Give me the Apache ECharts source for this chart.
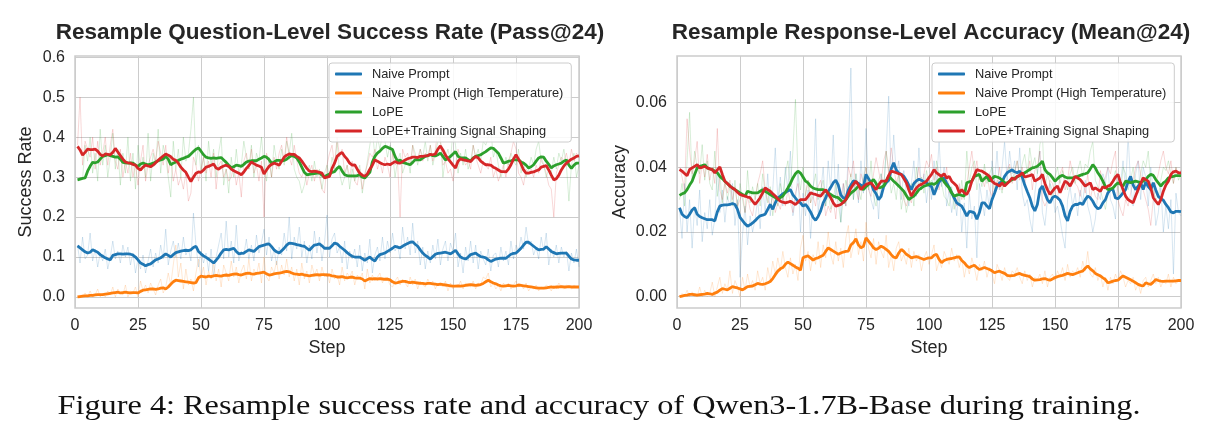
<!DOCTYPE html>
<html><head><meta charset="utf-8">
<script src="https://cdn.jsdelivr.net/npm/echarts@6/dist/echarts.min.js"></script>
<style>html,body{margin:0;padding:0;background:#fff}#c{width:1210px;height:441px}</style>
</head><body><div id="c"></div>
<script>
// ---------------- DATA ----------------
const methods = ['Naive Prompt', 'Naive Prompt (High Temperature)', 'LoPE', 'LoPE+Training Signal Shaping'];
const passTicks = [0, 0.1, 0.2, 0.3, 0.4, 0.5, 0.6];
const accTicks = [0, 0.02, 0.04, 0.06];
const steps = Array.from({length: 200}, (_, i) => i + 1);

// Left: Pass@24 smoothed
const passNaive = [
.128,.123,.118,.113,.110,.112,.118,.115,.112,.106,
.102,.098,.095,.093,.104,.106,.108,.108,.107,.108,
.108,.107,.105,.100,.093,.085,.082,.078,.081,.083,
.088,.093,.095,.098,.103,.108,.104,.100,.106,.111,
.113,.115,.116,.117,.116,.118,.124,.127,.114,.108,
.103,.099,.095,.090,.085,.092,.100,.110,.118,.119,
.118,.120,.122,.114,.108,.109,.110,.114,.118,.116,
.114,.120,.126,.128,.130,.132,.133,.126,.118,.113,
.110,.116,.122,.130,.135,.134,.133,.131,.130,.128,
.127,.122,.117,.124,.130,.131,.133,.128,.122,.122,
.122,.128,.135,.133,.127,.122,.117,.111,.106,.102,
.100,.100,.100,.096,.092,.096,.100,.094,.090,.100,
.106,.108,.110,.114,.118,.122,.127,.125,.123,.127,
.131,.134,.137,.138,.132,.127,.118,.110,.104,.100,
.095,.101,.107,.109,.110,.111,.112,.110,.108,.112,
.117,.108,.100,.097,.095,.100,.106,.108,.110,.105,
.101,.100,.098,.093,.089,.092,.095,.096,.097,.097,
.097,.102,.107,.109,.110,.116,.122,.130,.137,.137,
.132,.127,.122,.118,.119,.120,.126,.120,.114,.111,
.108,.109,.110,.110,.110,.102,.095,.093,.092,.092];
const passHighT = [
.000,.001,.002,.003,.003,.004,.004,.005,.006,.006,
.006,.007,.008,.009,.010,.011,.012,.010,.011,.012,
.011,.010,.011,.011,.010,.014,.017,.018,.019,.020,
.020,.019,.020,.022,.023,.020,.025,.032,.038,.042,
.041,.040,.039,.038,.037,.036,.035,.036,.048,.052,
.051,.050,.052,.051,.053,.054,.053,.052,.054,.055,
.054,.056,.057,.058,.056,.055,.057,.059,.060,.058,
.057,.059,.060,.061,.062,.058,.055,.056,.058,.059,
.060,.061,.063,.064,.063,.060,.058,.057,.056,.057,
.055,.054,.053,.054,.055,.056,.055,.056,.056,.055,
.055,.053,.052,.050,.050,.051,.049,.048,.049,.050,
.048,.047,.047,.045,.040,.043,.046,.045,.046,.045,
.046,.045,.044,.045,.043,.038,.035,.036,.038,.039,
.039,.037,.036,.037,.036,.035,.034,.034,.033,.034,
.034,.033,.032,.031,.032,.031,.030,.029,.028,.027,
.027,.028,.027,.028,.029,.030,.031,.030,.029,.030,
.031,.034,.038,.042,.038,.035,.033,.030,.028,.027,
.028,.029,.028,.027,.028,.030,.029,.028,.027,.026,
.025,.024,.023,.022,.022,.022,.023,.024,.025,.024,
.025,.025,.026,.025,.025,.026,.025,.025,.025,.025];
const passLoPE = [
.293,.295,.297,.298,.315,.327,.337,.336,.338,.345,
.352,.354,.356,.354,.352,.350,.351,.345,.337,.336,
.335,.336,.335,.330,.327,.333,.335,.333,.331,.333,
.335,.338,.341,.343,.345,.352,.345,.331,.335,.338,
.342,.345,.347,.350,.352,.358,.364,.370,.373,.365,
.356,.350,.348,.347,.348,.347,.348,.349,.343,.337,
.330,.324,.326,.330,.329,.327,.332,.338,.340,.341,
.341,.341,.345,.348,.352,.350,.344,.335,.338,.342,
.342,.341,.342,.345,.350,.354,.352,.348,.338,.325,
.312,.306,.307,.308,.309,.310,.311,.305,.300,.305,
.308,.312,.314,.322,.327,.315,.306,.304,.303,.303,
.303,.304,.306,.300,.298,.305,.312,.338,.352,.360,
.365,.372,.377,.375,.372,.369,.352,.340,.343,.337,
.335,.333,.331,.337,.344,.343,.343,.348,.352,.354,
.356,.354,.353,.356,.360,.352,.343,.347,.352,.358,
.364,.352,.348,.348,.348,.344,.340,.348,.352,.354,
.356,.360,.364,.369,.373,.372,.366,.360,.348,.335,
.337,.340,.341,.343,.343,.343,.338,.335,.330,.323,
.326,.331,.340,.348,.351,.350,.340,.332,.323,.328,
.331,.333,.335,.340,.343,.330,.322,.330,.335,.335];
const passShaping = [
.377,.368,.355,.362,.370,.369,.369,.370,.365,.357,
.353,.358,.357,.356,.362,.372,.363,.354,.345,.338,
.336,.335,.332,.330,.322,.318,.325,.330,.328,.326,
.330,.336,.342,.348,.353,.358,.355,.351,.345,.342,
.335,.325,.318,.312,.300,.289,.300,.310,.313,.312,
.318,.325,.327,.330,.333,.323,.320,.325,.328,.330,
.327,.320,.316,.313,.310,.306,.313,.322,.329,.338,
.334,.330,.328,.325,.308,.318,.327,.332,.335,.333,
.330,.340,.350,.355,.358,.357,.357,.352,.348,.340,
.331,.322,.315,.314,.315,.314,.312,.310,.298,.300,
.302,.322,.335,.352,.358,.362,.352,.345,.335,.330,
.331,.320,.310,.305,.302,.308,.320,.330,.343,.340,
.336,.333,.331,.333,.331,.335,.339,.336,.335,.339,
.343,.346,.348,.350,.350,.349,.352,.352,.353,.354,
.357,.356,.358,.370,.378,.368,.355,.346,.338,.330,
.323,.340,.346,.343,.342,.341,.339,.346,.352,.348,
.340,.335,.331,.331,.330,.325,.322,.318,.314,.314,
.313,.320,.331,.345,.356,.345,.333,.318,.310,.310,
.312,.313,.316,.318,.325,.327,.329,.318,.305,.293,
.296,.305,.318,.328,.335,.340,.345,.348,.352,.353];

// Left: Pass@24 raw (faint)
const passNaiveRaw = [
.130,.085,.150,.095,.105,.160,.090,.120,.075,.110,
.090,.120,.070,.100,.140,.095,.115,.085,.130,.100,
.125,.080,.110,.060,.095,.070,.105,.060,.090,.120,
.075,.110,.085,.130,.095,.170,.080,.115,.140,.100,
.135,.095,.150,.105,.120,.090,.210,.130,.075,.115,
.085,.110,.065,.120,.050,.100,.130,.160,.095,.190,
.100,.140,.085,.180,.090,.115,.105,.145,.095,.130,
.090,.155,.110,.135,.170,.105,.150,.090,.120,.080,
.125,.105,.160,.115,.200,.095,.150,.120,.175,.100,
.140,.085,.130,.095,.165,.110,.150,.090,.135,.205,
.100,.145,.160,.110,.125,.085,.140,.070,.115,.095,
.120,.075,.130,.065,.110,.085,.145,.060,.105,.125,
.090,.150,.095,.140,.110,.160,.115,.130,.095,.175,
.120,.150,.105,.185,.110,.140,.080,.125,.070,.115,
.085,.130,.095,.145,.080,.120,.140,.090,.135,.115,
.160,.075,.110,.060,.125,.090,.140,.085,.130,.070,
.115,.095,.080,.120,.065,.105,.110,.075,.125,.090,
.115,.080,.140,.095,.130,.115,.150,.120,.175,.130,
.140,.105,.125,.095,.150,.115,.160,.080,.120,.100,
.130,.085,.125,.100,.115,.065,.110,.085,.120,.075];
const passHighTRaw = [
.000,.005,.000,.010,.000,.015,.000,.005,.020,.000,
.010,.000,.015,.005,.025,.000,.020,.010,.005,.030,
.000,.015,.010,.025,.000,.040,.015,.030,.010,.035,
.020,.005,.030,.045,.010,.025,.060,.030,.080,.130,
.050,.085,.020,.070,.030,.045,.015,.060,.095,.050,
.075,.030,.065,.045,.085,.040,.070,.025,.080,.060,
.040,.090,.050,.075,.035,.065,.080,.045,.095,.040,
.070,.055,.085,.035,.100,.050,.040,.075,.060,.090,
.045,.080,.055,.095,.050,.075,.040,.070,.030,.085,
.045,.065,.035,.080,.055,.070,.040,.075,.050,.060,
.035,.070,.045,.055,.030,.075,.040,.060,.050,.065,
.030,.055,.045,.060,.020,.070,.035,.055,.040,.050,
.060,.035,.050,.045,.030,.025,.040,.050,.030,.045,
.035,.025,.050,.030,.045,.020,.040,.030,.025,.045,
.030,.040,.020,.035,.030,.025,.040,.015,.035,.020,
.030,.025,.040,.020,.035,.030,.025,.040,.020,.035,
.030,.050,.045,.060,.025,.035,.020,.030,.015,.035,
.025,.035,.020,.030,.040,.025,.030,.020,.035,.015,
.025,.020,.030,.015,.025,.020,.030,.025,.015,.030,
.020,.035,.025,.020,.030,.025,.020,.030,.025,.025];
const passLoPERaw = [
.290,.300,.295,.380,.340,.400,.310,.360,.290,.420,
.330,.380,.300,.350,.410,.320,.370,.280,.360,.310,
.400,.290,.360,.270,.380,.320,.350,.300,.410,.290,
.360,.330,.420,.310,.380,.350,.300,.250,.390,.320,
.370,.300,.400,.340,.360,.420,.500,.330,.380,.310,
.350,.290,.390,.330,.370,.300,.360,.400,.280,.320,
.260,.350,.300,.370,.310,.330,.390,.350,.320,.380,
.300,.360,.340,.400,.330,.290,.350,.300,.380,.340,
.320,.370,.330,.390,.360,.410,.320,.300,.290,.260,
.280,.310,.330,.290,.340,.300,.320,.270,.310,.330,
.300,.350,.320,.390,.310,.280,.300,.330,.270,.320,
.290,.310,.330,.260,.300,.340,.380,.420,.350,.400,
.370,.410,.390,.350,.380,.360,.300,.340,.360,.310,
.330,.350,.310,.380,.360,.330,.370,.350,.390,.340,
.380,.330,.360,.390,.400,.300,.350,.370,.340,.420,
.380,.310,.360,.330,.370,.320,.340,.380,.350,.370,
.340,.390,.380,.400,.420,.350,.370,.330,.300,.320,
.350,.330,.360,.340,.330,.370,.310,.340,.300,.320,
.350,.330,.370,.390,.340,.330,.300,.320,.310,.350,
.320,.360,.340,.370,.330,.240,.330,.360,.300,.330];
const passShapingRaw = [
.380,.500,.330,.390,.370,.350,.400,.320,.390,.330,
.360,.400,.330,.380,.420,.340,.320,.370,.300,.340,
.310,.360,.300,.330,.280,.340,.380,.290,.330,.350,
.370,.340,.390,.360,.330,.380,.310,.350,.290,.320,
.280,.300,.270,.310,.240,.260,.350,.330,.290,.320,
.350,.310,.340,.300,.360,.270,.330,.340,.300,.320,
.290,.300,.330,.280,.310,.250,.340,.360,.320,.370,
.310,.330,.290,.340,.200,.360,.340,.300,.350,.320,
.360,.380,.340,.400,.350,.330,.380,.340,.310,.300,
.320,.280,.310,.330,.290,.320,.300,.270,.260,.330,
.360,.380,.330,.400,.350,.370,.310,.330,.300,.340,
.290,.280,.320,.270,.310,.330,.360,.350,.370,.320,
.340,.310,.350,.330,.300,.360,.330,.340,.200,.370,
.350,.360,.330,.380,.340,.350,.370,.340,.360,.350,
.380,.340,.370,.420,.390,.330,.340,.310,.320,.290,
.330,.370,.340,.350,.330,.340,.320,.380,.350,.330,
.310,.340,.330,.320,.350,.300,.320,.290,.310,.330,
.300,.340,.360,.390,.370,.310,.300,.280,.320,.310,
.320,.300,.330,.310,.350,.330,.310,.280,.270,.200,
.310,.330,.350,.340,.360,.330,.370,.340,.360,.350];

// Right: Mean@24 smoothed
const accNaive = [
.0275,.0255,.0248,.0244,.0255,.0268,.0275,.0255,.0248,.0244,
.0241,.0238,.0238,.0238,.0234,.0262,.0280,.0283,.0284,.0284,
.0285,.0288,.0285,.0270,.0245,.0235,.0225,.0218,.0222,.0228,
.0235,.0243,.0250,.0252,.0255,.0270,.0285,.0270,.0290,.0305,
.0311,.0318,.0322,.0327,.0331,.0315,.0305,.0295,.0290,.0280,
.0285,.0275,.0262,.0245,.0236,.0248,.0265,.0290,.0305,.0325,
.0338,.0352,.0360,.0345,.0315,.0305,.0305,.0330,.0345,.0358,
.0355,.0350,.0345,.0340,.0378,.0365,.0352,.0330,.0318,.0300,
.0310,.0340,.0352,.0360,.0395,.0414,.0392,.0382,.0378,.0372,
.0360,.0345,.0331,.0350,.0358,.0363,.0360,.0355,.0352,.0345,
.0340,.0315,.0335,.0355,.0362,.0367,.0352,.0338,.0321,.0305,
.0290,.0285,.0280,.0265,.0249,.0264,.0262,.0259,.0239,.0260,
.0290,.0290,.0280,.0272,.0300,.0320,.0342,.0352,.0355,.0372,
.0383,.0388,.0392,.0386,.0383,.0388,.0370,.0345,.0325,.0306,
.0280,.0265,.0285,.0331,.0342,.0320,.0300,.0290,.0306,.0311,
.0306,.0298,.0280,.0250,.0234,.0264,.0280,.0285,.0285,.0290,
.0285,.0300,.0311,.0306,.0295,.0280,.0272,.0275,.0290,.0300,
.0321,.0331,.0331,.0305,.0303,.0311,.0321,.0331,.0355,.0372,
.0345,.0331,.0342,.0352,.0331,.0355,.0340,.0331,.0352,.0330,
.0310,.0303,.0298,.0285,.0275,.0262,.0259,.0264,.0264,.0263];
const accHighT = [
.0000,.0002,.0004,.0005,.0007,.0007,.0006,.0005,.0006,.0007,
.0008,.0010,.0009,.0007,.0011,.0014,.0020,.0025,.0023,.0021,
.0026,.0031,.0029,.0027,.0024,.0021,.0026,.0031,.0032,.0033,
.0037,.0041,.0039,.0038,.0040,.0043,.0047,.0056,.0068,.0079,
.0086,.0090,.0100,.0107,.0102,.0097,.0092,.0088,.0082,.0120,
.0124,.0126,.0120,.0113,.0118,.0120,.0124,.0128,.0140,.0151,
.0146,.0141,.0136,.0131,.0135,.0138,.0140,.0141,.0160,.0167,
.0179,.0160,.0151,.0156,.0182,.0172,.0162,.0151,.0146,.0150,
.0156,.0152,.0146,.0140,.0130,.0122,.0120,.0135,.0146,.0140,
.0131,.0126,.0120,.0122,.0124,.0121,.0118,.0115,.0118,.0120,
.0120,.0128,.0131,.0115,.0105,.0112,.0115,.0117,.0118,.0120,
.0122,.0123,.0112,.0105,.0095,.0090,.0094,.0097,.0090,.0084,
.0087,.0090,.0087,.0084,.0080,.0074,.0077,.0079,.0075,.0072,
.0066,.0064,.0065,.0066,.0070,.0072,.0068,.0066,.0064,.0062,
.0055,.0051,.0052,.0053,.0055,.0056,.0053,.0051,.0055,.0059,
.0062,.0064,.0066,.0069,.0072,.0070,.0068,.0071,.0074,.0077,
.0079,.0088,.0095,.0086,.0080,.0072,.0068,.0064,.0058,.0053,
.0043,.0045,.0048,.0050,.0051,.0058,.0064,.0060,.0056,.0052,
.0048,.0043,.0038,.0035,.0033,.0043,.0040,.0038,.0045,.0053,
.0050,.0048,.0047,.0048,.0048,.0048,.0048,.0049,.0050,.0050];
const accLoPE = [
.0313,.0318,.0321,.0331,.0345,.0357,.0378,.0398,.0403,.0405,
.0408,.0398,.0395,.0393,.0388,.0383,.0372,.0365,.0357,.0350,
.0342,.0336,.0331,.0326,.0321,.0316,.0311,.0326,.0323,.0321,
.0321,.0321,.0326,.0331,.0326,.0321,.0316,.0311,.0306,.0300,
.0306,.0311,.0323,.0336,.0350,.0367,.0380,.0388,.0382,.0370,
.0357,.0352,.0342,.0336,.0333,.0331,.0331,.0331,.0326,.0321,
.0316,.0311,.0308,.0306,.0298,.0290,.0300,.0311,.0320,.0326,
.0333,.0342,.0337,.0331,.0340,.0347,.0355,.0362,.0350,.0336,
.0338,.0342,.0358,.0372,.0365,.0357,.0350,.0342,.0334,.0326,
.0313,.0300,.0306,.0311,.0320,.0331,.0336,.0342,.0344,.0347,
.0350,.0347,.0352,.0362,.0367,.0355,.0345,.0336,.0321,.0311,
.0314,.0316,.0313,.0311,.0352,.0355,.0357,.0372,.0375,.0378,
.0357,.0365,.0372,.0357,.0365,.0372,.0370,.0367,.0360,.0352,
.0352,.0357,.0362,.0367,.0370,.0375,.0378,.0383,.0388,.0393,
.0398,.0400,.0403,.0410,.0419,.0393,.0383,.0378,.0368,.0357,
.0365,.0372,.0375,.0370,.0367,.0367,.0367,.0370,.0372,.0375,
.0378,.0380,.0383,.0395,.0408,.0398,.0383,.0372,.0357,.0340,
.0331,.0333,.0336,.0345,.0352,.0347,.0342,.0357,.0355,.0352,
.0355,.0357,.0355,.0352,.0357,.0362,.0372,.0378,.0375,.0362,
.0352,.0342,.0352,.0357,.0367,.0370,.0372,.0374,.0374,.0374];
const accShaping = [
.0393,.0388,.0381,.0374,.0393,.0398,.0403,.0408,.0398,.0400,
.0403,.0398,.0395,.0393,.0383,.0392,.0401,.0378,.0357,.0350,
.0342,.0336,.0331,.0323,.0316,.0313,.0311,.0308,.0306,.0295,
.0285,.0295,.0306,.0321,.0336,.0331,.0326,.0318,.0311,.0303,
.0295,.0292,.0290,.0292,.0295,.0290,.0285,.0292,.0300,.0300,
.0300,.0310,.0321,.0318,.0316,.0313,.0311,.0321,.0331,.0318,
.0306,.0290,.0280,.0282,.0285,.0292,.0300,.0318,.0336,.0347,
.0357,.0345,.0331,.0340,.0347,.0350,.0352,.0342,.0331,.0345,
.0357,.0357,.0357,.0375,.0388,.0386,.0383,.0380,.0378,.0365,
.0352,.0330,.0311,.0325,.0336,.0344,.0347,.0352,.0357,.0368,
.0378,.0393,.0383,.0377,.0372,.0380,.0367,.0372,.0357,.0350,
.0342,.0321,.0331,.0321,.0316,.0331,.0357,.0375,.0393,.0390,
.0388,.0383,.0378,.0372,.0357,.0350,.0347,.0342,.0352,.0342,
.0350,.0357,.0367,.0362,.0372,.0375,.0383,.0370,.0372,.0374,
.0378,.0357,.0362,.0367,.0378,.0350,.0331,.0316,.0326,.0336,
.0342,.0321,.0340,.0357,.0352,.0342,.0357,.0372,.0367,.0362,
.0352,.0342,.0347,.0352,.0331,.0336,.0331,.0326,.0340,.0336,
.0342,.0345,.0357,.0370,.0378,.0352,.0331,.0311,.0300,.0295,
.0290,.0311,.0331,.0350,.0367,.0362,.0357,.0336,.0306,.0295,
.0285,.0300,.0326,.0345,.0357,.0378,.0386,.0388,.0383,.0383];

// Right: Mean@24 raw (faint)
const accNaiveRaw = [
.0270,.0180,.0350,.0200,.0300,.0150,.0280,.0220,.0330,.0170,
.0260,.0210,.0300,.0190,.0240,.0400,.0260,.0330,.0230,.0310,
.0280,.0350,.0220,.0300,.0060,.0190,.0280,.0160,.0250,.0200,
.0240,.0300,.0210,.0340,.0260,.0380,.0250,.0330,.0460,.0300,
.0370,.0280,.0400,.0330,.0450,.0250,.0300,.0380,.0200,.0320,
.0250,.0330,.0180,.0300,.0550,.0260,.0320,.0400,.0280,.0420,
.0330,.0500,.0300,.0410,.0230,.0350,.0280,.0450,.0707,.0300,
.0380,.0290,.0420,.0320,.0520,.0350,.0300,.0270,.0360,.0240,
.0380,.0330,.0450,.0620,.0360,.0500,.0380,.0420,.0300,.0390,
.0320,.0280,.0350,.0420,.0310,.0460,.0330,.0380,.0290,.0360,
.0300,.0420,.0350,.0480,.0340,.0400,.0280,.0330,.0260,.0310,
.0250,.0340,.0200,.0290,.0150,.0320,.0240,.0280,.0120,.0350,
.0300,.0250,.0330,.0270,.0420,.0350,.0450,.0330,.0400,.0480,
.0360,.0450,.0380,.0420,.0330,.0460,.0320,.0280,.0300,.0240,
.0200,.0320,.0380,.0450,.0260,.0220,.0300,.0350,.0330,.0260,
.0280,.0240,.0190,.0150,.0300,.0340,.0280,.0320,.0250,.0330,
.0290,.0360,.0280,.0250,.0200,.0240,.0320,.0300,.0380,.0350,
.0400,.0300,.0280,.0240,.0380,.0350,.0420,.0330,.0500,.0350,
.0280,.0380,.0420,.0300,.0400,.0370,.0280,.0400,.0320,.0220,
.0260,.0340,.0200,.0280,.0210,.0300,.0070,.0320,.0260,.0250];
const accHighTRaw = [
.0000,.0010,.0000,.0020,.0000,.0015,.0005,.0000,.0030,.0000,
.0020,.0000,.0010,.0045,.0000,.0030,.0060,.0010,.0040,.0020,
.0080,.0010,.0050,.0030,.0000,.0060,.0020,.0070,.0030,.0050,
.0020,.0080,.0040,.0060,.0020,.0090,.0050,.0110,.0070,.0120,
.0080,.0140,.0090,.0060,.0120,.0070,.0100,.0050,.0150,.0190,
.0110,.0140,.0080,.0130,.0100,.0170,.0090,.0160,.0120,.0200,
.0130,.0100,.0170,.0110,.0150,.0090,.0180,.0220,.0120,.0160,
.0210,.0130,.0170,.0110,.0230,.0150,.0120,.0180,.0100,.0170,
.0140,.0120,.0190,.0090,.0130,.0080,.0150,.0170,.0110,.0130,
.0100,.0150,.0090,.0140,.0110,.0130,.0080,.0120,.0140,.0100,
.0130,.0160,.0080,.0110,.0090,.0140,.0120,.0100,.0150,.0110,
.0130,.0090,.0120,.0060,.0100,.0070,.0120,.0090,.0050,.0100,
.0080,.0110,.0060,.0090,.0070,.0040,.0100,.0080,.0050,.0090,
.0060,.0050,.0080,.0070,.0090,.0060,.0040,.0080,.0050,.0070,
.0030,.0060,.0050,.0070,.0040,.0080,.0030,.0060,.0070,.0050,
.0080,.0060,.0090,.0050,.0100,.0060,.0080,.0070,.0090,.0060,
.0110,.0080,.0140,.0070,.0060,.0090,.0050,.0070,.0030,.0060,
.0020,.0060,.0040,.0070,.0050,.0080,.0060,.0030,.0050,.0040,
.0060,.0020,.0040,.0010,.0050,.0060,.0030,.0050,.0070,.0040,
.0060,.0030,.0050,.0040,.0070,.0030,.0060,.0040,.0050,.0050];
const accLoPERaw = [
.0300,.0350,.0280,.0420,.0570,.0360,.0450,.0400,.0380,.0470,
.0360,.0420,.0350,.0330,.0450,.0310,.0380,.0290,.0360,.0300,
.0340,.0280,.0360,.0270,.0350,.0300,.0260,.0390,.0290,.0340,
.0300,.0350,.0280,.0380,.0320,.0290,.0340,.0250,.0310,.0280,
.0350,.0300,.0380,.0420,.0340,.0450,.0610,.0380,.0330,.0400,
.0310,.0360,.0290,.0340,.0380,.0300,.0330,.0360,.0280,.0320,
.0270,.0300,.0350,.0290,.0230,.0310,.0360,.0330,.0380,.0300,
.0380,.0330,.0300,.0370,.0400,.0330,.0420,.0310,.0280,.0360,
.0380,.0330,.0450,.0390,.0320,.0350,.0300,.0380,.0270,.0320,
.0260,.0300,.0350,.0280,.0400,.0340,.0370,.0320,.0390,.0350,
.0360,.0330,.0420,.0380,.0350,.0310,.0300,.0280,.0340,.0270,
.0320,.0290,.0360,.0300,.0450,.0350,.0400,.0420,.0330,.0380,
.0340,.0410,.0350,.0380,.0400,.0330,.0360,.0350,.0320,.0370,
.0380,.0400,.0360,.0390,.0420,.0370,.0410,.0440,.0380,.0460,
.0400,.0430,.0380,.0470,.0500,.0330,.0380,.0350,.0300,.0370,
.0400,.0350,.0390,.0360,.0330,.0380,.0400,.0350,.0390,.0420,
.0370,.0410,.0400,.0450,.0480,.0360,.0340,.0330,.0300,.0270,
.0320,.0350,.0360,.0390,.0330,.0310,.0400,.0380,.0330,.0360,
.0400,.0340,.0320,.0380,.0420,.0400,.0450,.0350,.0330,.0300,
.0310,.0360,.0400,.0390,.0420,.0380,.0350,.0400,.0360,.0380];
const accShapingRaw = [
.0400,.0370,.0330,.0550,.0450,.0380,.0420,.0480,.0350,.0410,
.0370,.0440,.0360,.0400,.0350,.0520,.0330,.0300,.0350,.0320,
.0360,.0300,.0340,.0280,.0300,.0320,.0260,.0310,.0270,.0250,
.0300,.0350,.0380,.0420,.0330,.0300,.0280,.0310,.0260,.0290,
.0270,.0310,.0280,.0330,.0290,.0260,.0320,.0350,.0300,.0280,
.0320,.0360,.0290,.0310,.0280,.0340,.0360,.0320,.0250,.0280,
.0260,.0300,.0240,.0330,.0300,.0350,.0280,.0400,.0370,.0420,
.0330,.0300,.0380,.0350,.0400,.0330,.0310,.0380,.0430,.0390,
.0350,.0420,.0450,.0380,.0460,.0400,.0350,.0380,.0330,.0300,
.0280,.0310,.0290,.0360,.0350,.0400,.0330,.0380,.0420,.0400,
.0440,.0360,.0400,.0330,.0380,.0350,.0400,.0320,.0330,.0310,
.0280,.0350,.0300,.0330,.0350,.0400,.0450,.0380,.0420,.0360,
.0370,.0340,.0380,.0330,.0310,.0360,.0340,.0400,.0330,.0370,
.0390,.0410,.0350,.0380,.0420,.0360,.0400,.0350,.0380,.0420,
.0330,.0390,.0400,.0450,.0300,.0280,.0300,.0360,.0350,.0320,
.0300,.0380,.0400,.0330,.0360,.0420,.0380,.0350,.0340,.0310,
.0360,.0320,.0380,.0300,.0340,.0310,.0300,.0390,.0350,.0370,
.0400,.0380,.0420,.0450,.0300,.0270,.0250,.0300,.0280,.0320,
.0360,.0400,.0420,.0380,.0330,.0300,.0270,.0220,.0300,.0350,
.0380,.0420,.0450,.0400,.0380,.0420,.0350,.0400,.0370,.0390];

// ---------------- CHART ----------------
const colors = ['#1f77b4', '#ff7f0e', '#2ca02c', '#d62728'];
const FONT = "'Liberation Sans', Arial, sans-serif";
const TXT = '#262626';
const GRIDC = '#cccccc';

function line(name, vals, color, g, raw) {
  return {
    name: raw ? name + ' (raw)' : name,
    type: 'line', xAxisIndex: g, yAxisIndex: g,
    data: steps.map((s, i) => [s, vals[i]]),
    showSymbol: false, symbol: 'none', silent: true,
    lineStyle: {color: color, width: raw ? 1 : 2.8, opacity: raw ? 0.18 : 1},
    itemStyle: {color: color},
    z: raw ? 2 : 3
  };
}
const passSm = [passNaive, passHighT, passLoPE, passShaping];
const passRw = [passNaiveRaw, passHighTRaw, passLoPERaw, passShapingRaw];
const accSm = [accNaive, accHighT, accLoPE, accShaping];
const accRw = [accNaiveRaw, accHighTRaw, accLoPERaw, accShapingRaw];
const series = [];
[[passSm, passRw, 0], [accSm, accRw, 1]].forEach(([sm, rw, g]) => {
  methods.forEach((m, k) => series.push(line(m, rw[k], colors[k], g, true)));
  methods.forEach((m, k) => series.push(line(m, sm[k], colors[k], g, false)));
});

function xAx(g) {
  return {
    gridIndex: g, type: 'value', min: 0, max: 200, interval: 25,
    axisLine: {show: false}, axisTick: {show: false},
    splitLine: {show: true, lineStyle: {color: GRIDC, width: 1}},
    axisLabel: {fontSize: 16, color: TXT, fontFamily: FONT, margin: 10},
    name: 'Step', nameLocation: 'middle', nameGap: 30,
    nameTextStyle: {fontSize: 18, color: TXT, fontFamily: FONT}
  };
}
function yAx(g, min, max, ticks, dec, name, gap) {
  return {
    gridIndex: g, type: 'value', min: min, max: max,
    axisLine: {show: false},
    axisTick: {show: false, customValues: ticks},
    splitLine: {show: true, lineStyle: {color: GRIDC, width: 1}},
    axisLabel: {customValues: ticks, formatter: v => v.toFixed(dec), fontSize: 16, color: TXT, fontFamily: FONT, margin: 10},
    name: name, nameLocation: 'middle', nameGap: gap, nameRotate: 90,
    nameTextStyle: {fontSize: 18, color: TXT, fontFamily: FONT}
  };
}
function legend(left) {
  return {
    data: methods, orient: 'vertical', left: left, top: 63,
    icon: 'roundRect', itemWidth: 27, itemHeight: 3, itemGap: 5,
    backgroundColor: 'rgba(255,255,255,0.85)', borderColor: GRIDC, borderWidth: 1, borderRadius: 3,
    padding: [4, 8, 4, 6],
    textStyle: {fontSize: 12.8, color: TXT, fontFamily: FONT, lineHeight: 14, padding: [0, 0, 0, 5]},
    selectedMode: false
  };
}

const chart = echarts.init(document.getElementById('c'), null, {renderer: 'canvas'});
chart.setOption({
  animation: false,
  backgroundColor: '#ffffff',
  grid: [
    {left: 75, top: 56, width: 504, height: 252, show: true, borderColor: GRIDC, borderWidth: 1.5, backgroundColor: 'transparent', containLabel: false},
    {left: 677, top: 56, width: 504, height: 252, show: true, borderColor: GRIDC, borderWidth: 1.5, backgroundColor: 'transparent', containLabel: false}
  ],
  xAxis: [xAx(0), xAx(1)],
  yAxis: [
    yAx(0, -0.0276, 0.6033, passTicks, 1, 'Success Rate', 40),
    yAx(1, -0.0035, 0.0744, accTicks, 2, 'Accuracy', 48)
  ],
  legend: [legend(329), legend(932)],
  series: series,
  graphic: [
    {type: 'text', x: 330, y: 33, style: {text: 'Resample Question-Level Success Rate (Pass@24)', font: 'bold 22.5px ' + FONT, fill: TXT, align: 'center', verticalAlign: 'middle', textAlign: 'center', textVerticalAlign: 'middle'}},
    {type: 'text', x: 931, y: 33, style: {text: 'Resample Response-Level Accuracy (Mean@24)', font: 'bold 22.5px ' + FONT, fill: TXT, align: 'center', verticalAlign: 'middle', textAlign: 'center', textVerticalAlign: 'middle'}},
    {type: 'text', x: 599, y: 407, scaleX: 1.153, style: {text: 'Figure 4: Resample success rate and accuracy of Qwen3-1.7B-Base during training.', font: "28px 'Liberation Serif', serif", fill: '#111111', align: 'center', verticalAlign: 'middle', textAlign: 'center', textVerticalAlign: 'middle'}}
  ]
});
</script>
</body></html>
